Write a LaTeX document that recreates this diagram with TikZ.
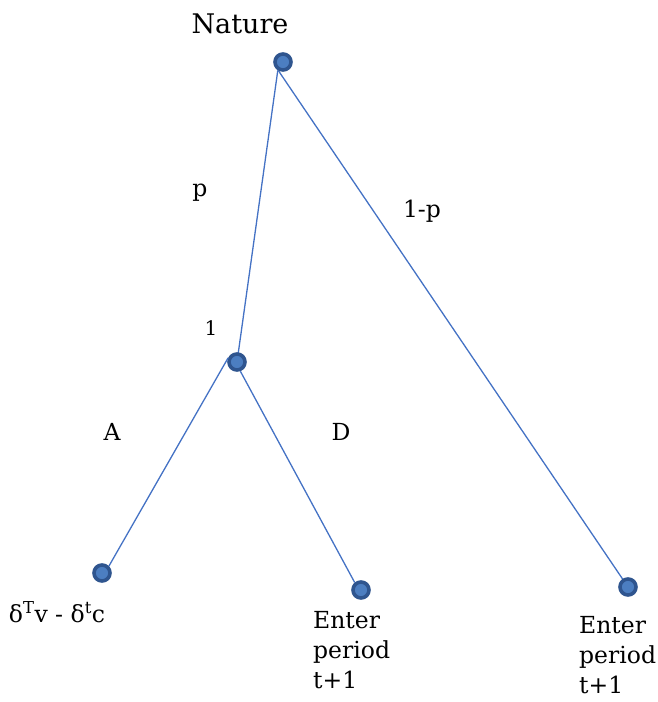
\documentclass[tikz,border=0pt]{standalone}
\usepackage{fontspec}
\setmainfont{DejaVu Serif}
\usepackage{tikz}
\usetikzlibrary{positioning}
\definecolor{treering}{RGB}{47,85,143}
\definecolor{treedot}{RGB}{76,126,193}
\definecolor{treeline}{RGB}{68,114,196}
\tikzset{
  move/.style={
    circle, draw=treering, line width=3.6pt, fill=treedot,
    inner sep=0pt, minimum size=16pt
  },
  branch/.style={draw=treeline, line width=1.3pt},
  lbl/.style={font=\fontsize{23.5}{30}\selectfont, inner sep=0pt},
  payoff/.style={lbl, align=left, anchor=north west}
}

\begin{document}
\begin{tikzpicture}[x=1pt, y=-1pt]
  \useasboundingbox (0,0) rectangle (658,702);

  % branches (drawn first, the nodes sit on top)
  \draw[branch] (283,62) ++(-122:9.8pt) coordinate (natl) -- (237,362) ++(155:9.8pt) coordinate (onel);
  \draw[branch] (283,62) ++(-118:9.8pt) coordinate (natr) -- (628,587) ++(120:9.8pt) coordinate (lrin);

  % decision nodes
  \node[move] (nat) at (283,62) {};
  \node[move] (one) at (237,362) {};
  \node[move] (la) at (102,573) {};
  \node[move] (ld) at (361,590) {};
  \node[move] (lr) at (628,587) {};

  \draw[branch] (onel) -- (la.45);
  \draw[branch] (one.-70) -- (ld.130);

  % labels
  \node[lbl, font=\fontsize{27}{32}\selectfont] (natlbl) at (240,24) {Nature};
  \node[lbl] (plbl) at (200,193) {p};
  \node[lbl] (qlbl) at (422,211) {1-p};
  \node[lbl, font=\fontsize{20}{24}\selectfont] (onelbl) at (211,328) {1};
  \node[lbl] (albl) at (112,432) {A};
  \node[lbl] (dlbl) at (341,432) {D};

  % payoffs
  \node[lbl] (pa) at (57,612) {δ\textsuperscript{T}v - δ\textsuperscript{t}c};
  \node[payoff] (pd) at (313,611) {Enter\\period\\t+1};
  \node[payoff] (pr) at (579,616) {Enter\\period\\t+1};
\end{tikzpicture}
\end{document}
